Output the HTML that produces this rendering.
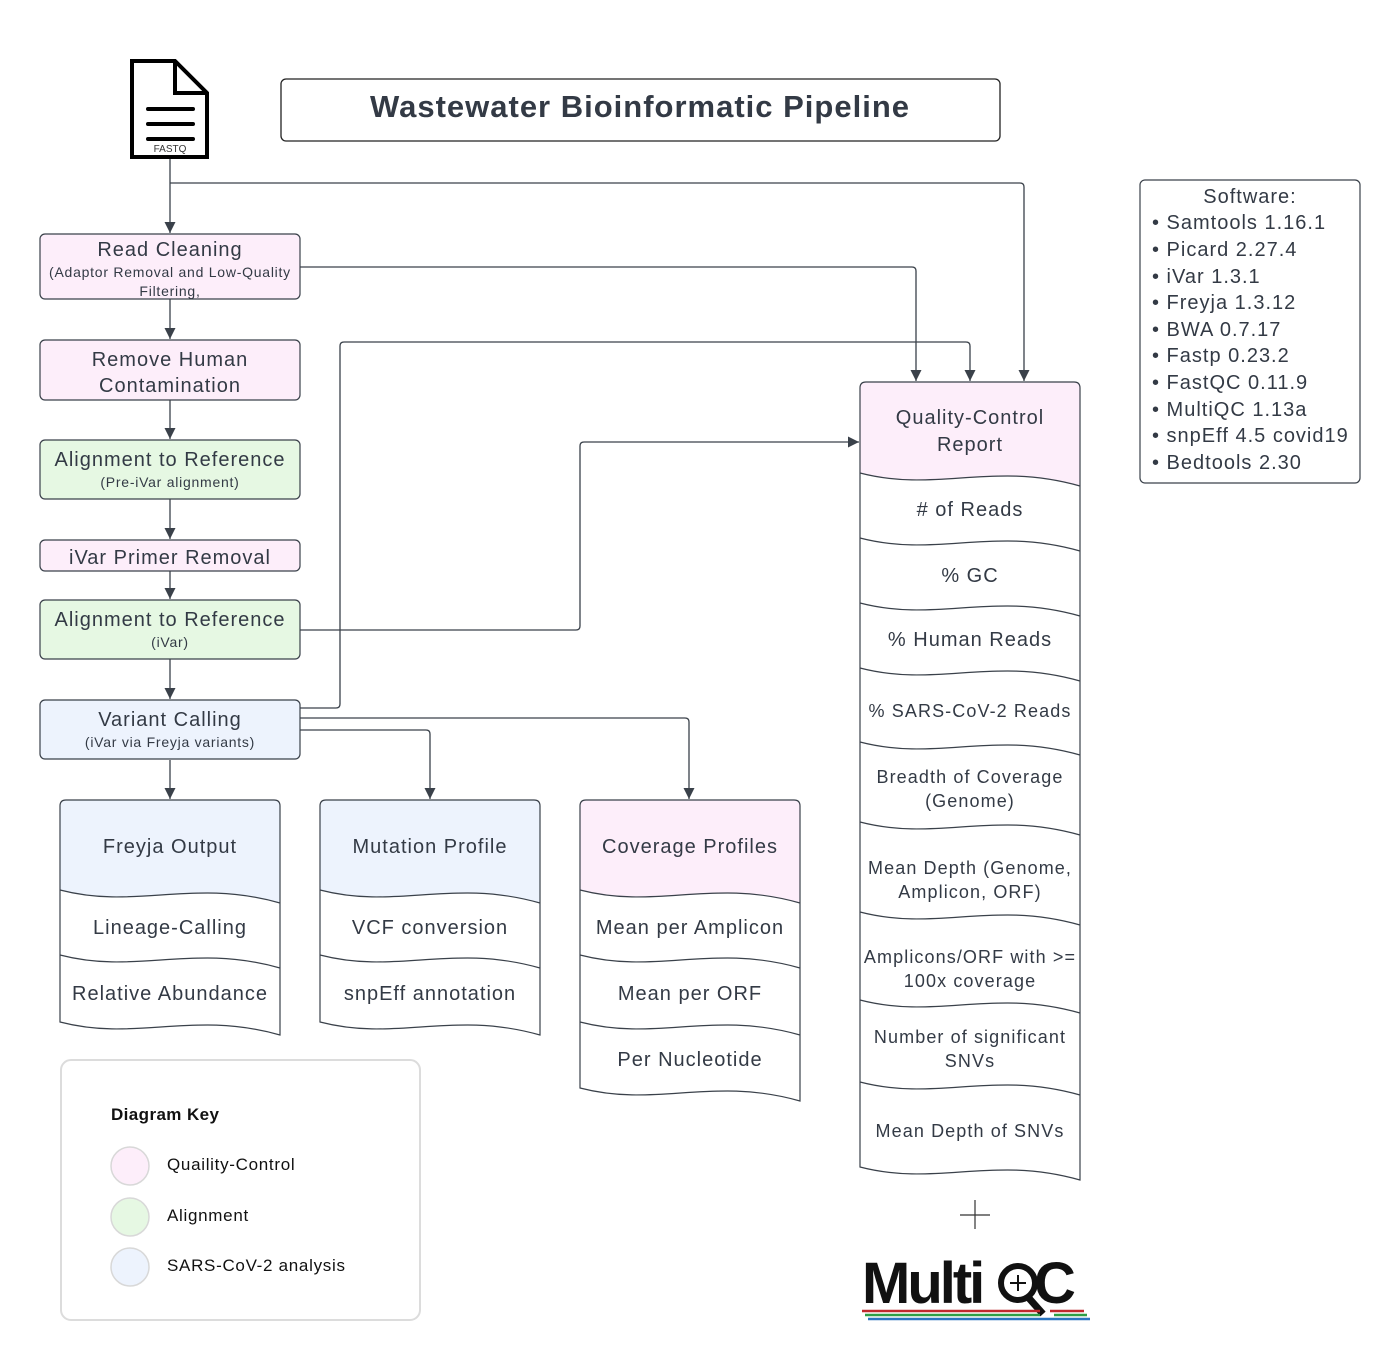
<!DOCTYPE html>
<html><head><meta charset="utf-8"><style>
html,body{margin:0;padding:0;background:#fff;}
svg{display:block;font-family:"Liberation Sans",sans-serif;}
text{fill:#333a45;}
.t20{letter-spacing:1px}
.t14{letter-spacing:0.75px}
.t18{letter-spacing:1.1px}
</style></head><body>
<svg width="1400" height="1360" viewBox="0 0 1400 1360" xmlns="http://www.w3.org/2000/svg">
<defs>
<marker id="a" viewBox="0 0 10 10" refX="10" refY="5" markerWidth="11" markerHeight="11" markerUnits="userSpaceOnUse" orient="auto"><path d="M0 0 L10 5 L0 10 z" fill="#3a414a"/></marker>
</defs>
<g fill="none" stroke="#3a414a" stroke-width="1.3">
<path d="M170 158 V233" marker-end="url(#a)"/>
<path d="M170 183 H1020 Q1024 183 1024 187 V381" marker-end="url(#a)"/>
<path d="M300 267 H912 Q916 267 916 271 V381" marker-end="url(#a)"/>
<path d="M170 299 V339" marker-end="url(#a)"/>
<path d="M170 400 V439" marker-end="url(#a)"/>
<path d="M170 499 V539" marker-end="url(#a)"/>
<path d="M170 571 V599" marker-end="url(#a)"/>
<path d="M170 659 V699" marker-end="url(#a)"/>
<path d="M300 708 H336 Q340 708 340 704 V346 Q340 342 344 342 H966 Q970 342 970 346 V381" marker-end="url(#a)"/>
<path d="M300 630 H576 Q580 630 580 626 V446 Q580 442 584 442 H859" marker-end="url(#a)"/>
<path d="M300 718 H685 Q689 718 689 722 V799" marker-end="url(#a)"/>
<path d="M300 730 H426 Q430 730 430 734 V799" marker-end="url(#a)"/>
<path d="M170 760 V799" marker-end="url(#a)"/>
</g>

<path d="M132 61 H175 L207 93 V157 H132 Z" fill="#fff" stroke="#000" stroke-width="4"/>
<path d="M175 61 V93 H207" fill="none" stroke="#000" stroke-width="4"/>
<g stroke="#000" stroke-width="4" stroke-linecap="round"><path d="M148 109 H193 M148 124 H193 M148 139 H193"/></g>
<text x="170" y="152" font-size="10" text-anchor="middle" style="fill:#333">FASTQ</text>

<rect x="281" y="79" width="719" height="62" rx="5" fill="#fff" stroke="#222" stroke-width="1.3"/>
<text x="640" y="117" font-size="31" font-weight="bold" text-anchor="middle" style="letter-spacing:1px">Wastewater Bioinformatic Pipeline</text>

<g stroke="#3a414a" stroke-width="1.2">
<rect x="40" y="234" width="260" height="65" rx="5" fill="#fdeefa"/>
<rect x="40" y="340" width="260" height="60" rx="5" fill="#fdeefa"/>
<rect x="40" y="440" width="260" height="59" rx="5" fill="#e6f8e3"/>
<rect x="40" y="540" width="260" height="31" rx="5" fill="#fdeefa"/>
<rect x="40" y="600" width="260" height="59" rx="5" fill="#e6f8e3"/>
<rect x="40" y="700" width="260" height="59" rx="5" fill="#edf3fd"/>
</g>
<g text-anchor="middle">
<text class="t20" x="170" y="256" font-size="20">Read Cleaning</text>
<text class="t14" x="170" y="277" font-size="14">(Adaptor Removal and Low-Quality</text>
<text class="t14" x="170" y="296" font-size="14">Filtering,</text>
<text class="t20" x="170" y="366" font-size="20">Remove Human</text>
<text class="t20" x="170" y="392" font-size="20">Contamination</text>
<text class="t20" x="170" y="466" font-size="20">Alignment to Reference</text>
<text class="t14" x="170" y="487" font-size="14">(Pre-iVar alignment)</text>
<text class="t20" x="170" y="564" font-size="20">iVar Primer Removal</text>
<text class="t20" x="170" y="626" font-size="20">Alignment to Reference</text>
<text class="t14" x="170" y="647" font-size="14">(iVar)</text>
<text class="t20" x="170" y="726" font-size="20">Variant Calling</text>
<text class="t14" x="170" y="747" font-size="14">(iVar via Freyja variants)</text>
</g>

<g stroke="#3a414a" stroke-width="1.2">
<path d="M60 806 Q60 800 66 800 H274 Q280 800 280 806 V903 C192 878 137 910 60 890 Z" fill="#edf3fd" stroke="none"/>
<path d="M60 806 Q60 800 66 800 H274 Q280 800 280 806 V1035 C192 1010 137 1042 60 1022 Z" fill="none"/>
<path d="M60 890 c77 20 132 -12 220 13 M60 955 c77 20 132 -12 220 13" fill="none"/>
<path d="M320 806 Q320 800 326 800 H534 Q540 800 540 806 V903 C452 878 397 910 320 890 Z" fill="#edf3fd" stroke="none"/>
<path d="M320 806 Q320 800 326 800 H534 Q540 800 540 806 V1035 C452 1010 397 1042 320 1022 Z" fill="none"/>
<path d="M320 890 c77 20 132 -12 220 13 M320 955 c77 20 132 -12 220 13" fill="none"/>
<path d="M580 806 Q580 800 586 800 H794 Q800 800 800 806 V903 C712 878 657 910 580 890 Z" fill="#fdeefa" stroke="none"/>
<path d="M580 806 Q580 800 586 800 H794 Q800 800 800 806 V1101 C712 1076 657 1108 580 1088 Z" fill="none"/>
<path d="M580 890 c77 20 132 -12 220 13 M580 955 c77 20 132 -12 220 13 M580 1022 c77 20 132 -12 220 13" fill="none"/>
<path d="M860 388 Q860 382 866 382 H1074 Q1080 382 1080 388 V486 C992 461 937 493 860 473 Z" fill="#fdeefa" stroke="none"/>
<path d="M860 388 Q860 382 866 382 H1074 Q1080 382 1080 388 V1180 C992 1155 937 1187 860 1167 Z" fill="none"/>
<path d="M860 473 c77 20 132 -12 220 13 M860 538 c77 20 132 -12 220 13 M860 603 c77 20 132 -12 220 13 M860 668 c77 20 132 -12 220 13 M860 742 c77 20 132 -12 220 13 M860 822 c77 20 132 -12 220 13 M860 912 c77 20 132 -12 220 13 M860 1000 c77 20 132 -12 220 13 M860 1082 c77 20 132 -12 220 13" fill="none"/>
</g>
<g text-anchor="middle" font-size="20" class="t20">
<text x="170" y="853">Freyja Output</text>
<text x="170" y="934">Lineage-Calling</text>
<text x="170" y="1000">Relative Abundance</text>
<text x="430" y="853">Mutation Profile</text>
<text x="430" y="934">VCF conversion</text>
<text x="430" y="1000">snpEff annotation</text>
<text x="690" y="853">Coverage Profiles</text>
<text x="690" y="934">Mean per Amplicon</text>
<text x="690" y="1000">Mean per ORF</text>
<text x="690" y="1066">Per Nucleotide</text>
<text x="970" y="424">Quality-Control</text>
<text x="970" y="451">Report</text>
<text x="970" y="516"># of Reads</text>
<text x="970" y="582">% GC</text>
<text x="970" y="646">% Human Reads</text>
</g>
<g text-anchor="middle" font-size="18" class="t18">
<text x="970" y="717">% SARS-CoV-2 Reads</text>
<text x="970" y="783">Breadth of Coverage</text>
<text x="970" y="807">(Genome)</text>
<text x="970" y="874">Mean Depth (Genome,</text>
<text x="970" y="898">Amplicon, ORF)</text>
<text x="970" y="963">Amplicons/ORF with &gt;=</text>
<text x="970" y="987">100x coverage</text>
<text x="970" y="1043">Number of significant</text>
<text x="970" y="1067">SNVs</text>
<text x="970" y="1137">Mean Depth of SNVs</text>
</g>

<path d="M960 1215 H990 M975 1200 V1229" stroke="#333" stroke-width="1.2"/>
<text x="862" y="1303" font-size="58" font-weight="bold" style="fill:#111;letter-spacing:-3px">Multi</text>
<circle cx="1018" cy="1283" r="17" fill="none" stroke="#111" stroke-width="6"/>
<path d="M1018 1275 V1291 M1010 1283 H1026" stroke="#111" stroke-width="2"/>
<path d="M1027 1296 L1043 1314" stroke="#111" stroke-width="7"/>
<text x="1034" y="1303" font-size="58" font-weight="bold" style="fill:#111">C</text>
<path d="M862 1311 H1040 M1050 1311 H1084" stroke="#c0282d" stroke-width="2.5"/>
<path d="M865 1315 H1040 M1054 1315 H1087" stroke="#2e9e46" stroke-width="2.5"/>
<path d="M868 1319 H1090" stroke="#2a75c0" stroke-width="2.5"/>

<rect x="1140" y="180" width="220" height="303" rx="5" fill="#fff" stroke="#3a414a" stroke-width="1.2"/>
<g font-size="20" class="t20">
<text x="1250" y="203" text-anchor="middle">Software:</text>
<text x="1152" y="229">• Samtools 1.16.1</text>
<text x="1152" y="256">• Picard 2.27.4</text>
<text x="1152" y="283">• iVar 1.3.1</text>
<text x="1152" y="309">• Freyja 1.3.12</text>
<text x="1152" y="336">• BWA 0.7.17</text>
<text x="1152" y="362">• Fastp 0.23.2</text>
<text x="1152" y="389">• FastQC 0.11.9</text>
<text x="1152" y="416">• MultiQC 1.13a</text>
<text x="1152" y="442">• snpEff 4.5 covid19</text>
<text x="1152" y="469">• Bedtools 2.30</text>
</g>

<rect x="61" y="1060" width="359" height="260" rx="10" fill="#fff" stroke="#dcdcdc" stroke-width="2"/>
<text x="111" y="1120" font-size="17" font-weight="bold" style="fill:#111;letter-spacing:0.4px">Diagram Key</text>
<circle cx="130" cy="1166" r="19" fill="#fdeefa" stroke="#d8d8d8" stroke-width="1.5"/>
<circle cx="130" cy="1217" r="19" fill="#e6f8e3" stroke="#d8d8d8" stroke-width="1.5"/>
<circle cx="130" cy="1267" r="19" fill="#edf3fd" stroke="#d8d8d8" stroke-width="1.5"/>
<g font-size="17" style="letter-spacing:0.7px">
<text x="167" y="1170" style="fill:#111">Quaility-Control</text>
<text x="167" y="1221" style="fill:#111">Alignment</text>
<text x="167" y="1271" style="fill:#111">SARS-CoV-2 analysis</text>
</g>
</svg>
</body></html>
